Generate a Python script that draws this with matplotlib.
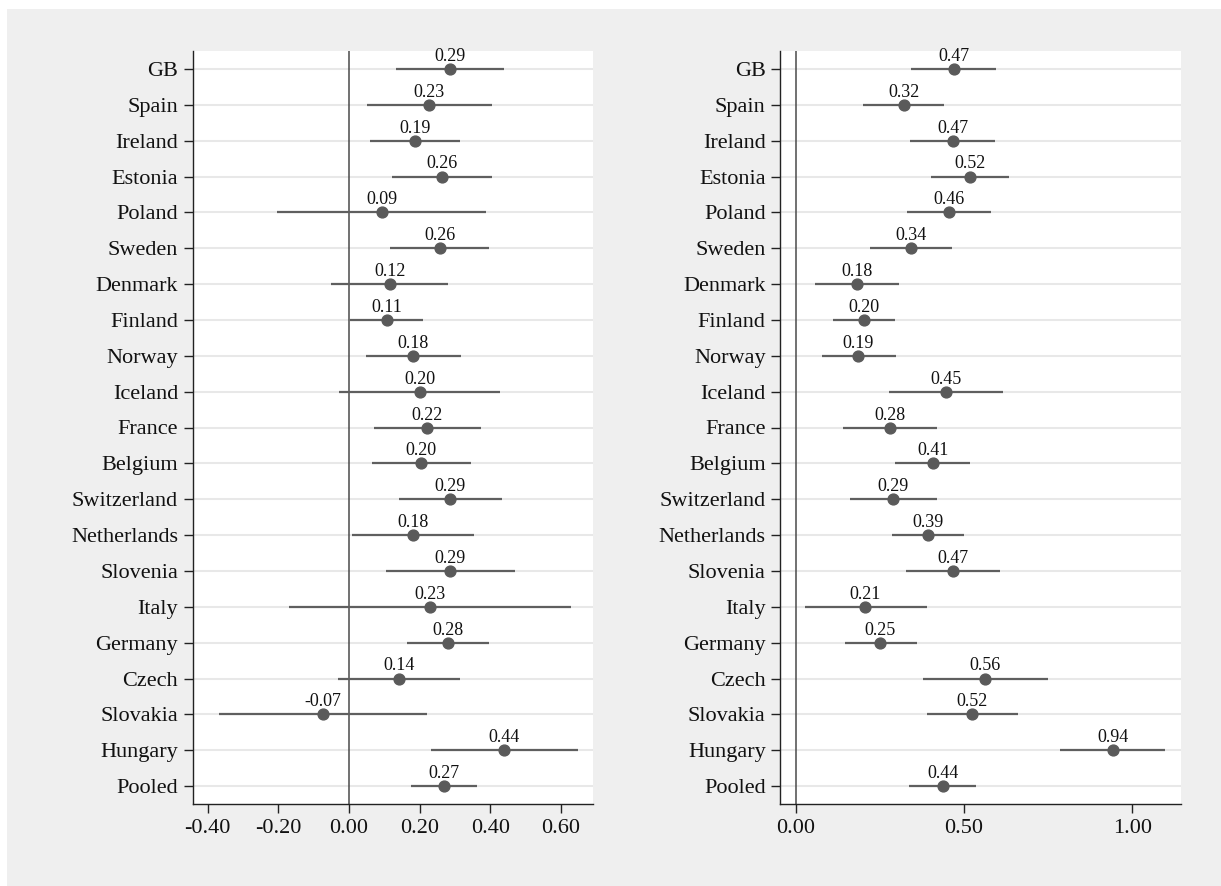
import matplotlib
matplotlib.use("Agg")
import matplotlib.pyplot as plt
from matplotlib.patches import Rectangle

countries = ["GB", "Spain", "Ireland", "Estonia", "Poland", "Sweden", "Denmark",
             "Finland", "Norway", "Iceland", "France", "Belgium", "Switzerland",
             "Netherlands", "Slovenia", "Italy", "Germany", "Czech", "Slovakia",
             "Hungary", "Pooled"]

left_est = [0.287, 0.227, 0.187, 0.263, 0.094, 0.257, 0.117, 0.107, 0.181, 0.200,
            0.222, 0.203, 0.287, 0.181, 0.287, 0.229, 0.280, 0.143, -0.073, 0.440, 0.269]
left_lo = [0.134, 0.050, 0.059, 0.123, -0.203, 0.116, -0.051, 0.002, 0.048, -0.027,
           0.070, 0.064, 0.143, 0.010, 0.105, -0.170, 0.164, -0.030, -0.368, 0.232, 0.175]
left_hi = [0.439, 0.404, 0.314, 0.406, 0.389, 0.396, 0.282, 0.211, 0.317, 0.428,
           0.373, 0.346, 0.433, 0.355, 0.470, 0.630, 0.398, 0.316, 0.221, 0.650, 0.364]

right_est = [0.469, 0.321, 0.467, 0.517, 0.456, 0.341, 0.181, 0.203, 0.186, 0.446,
             0.279, 0.407, 0.289, 0.392, 0.467, 0.207, 0.251, 0.563, 0.523, 0.942, 0.437]
right_lo = [0.343, 0.200, 0.340, 0.403, 0.330, 0.220, 0.058, 0.111, 0.078, 0.278,
            0.140, 0.295, 0.162, 0.287, 0.326, 0.028, 0.147, 0.377, 0.389, 0.786, 0.336]
right_hi = [0.596, 0.441, 0.591, 0.632, 0.581, 0.464, 0.306, 0.296, 0.299, 0.617,
            0.419, 0.517, 0.418, 0.501, 0.606, 0.391, 0.359, 0.750, 0.659, 1.098, 0.534]

left_ticks = [-0.4, -0.2, 0.0, 0.2, 0.4, 0.6]
right_ticks = [0.0, 0.5, 1.0]

plt.rcParams['font.family'] = ['Liberation Serif', 'DejaVu Serif']

W, H = 1221, 886
fig = plt.figure(figsize=(W / 100, H / 100), dpi=100)
fig.patch.set_facecolor('white')
fig.patches.append(Rectangle((7 / W, 0), 1 - 7 / W, 1 - 9 / H, transform=fig.transFigure,
                             facecolor='#efefef', edgecolor='none', zorder=-10))

def panel(rect, est, lo, hi, ticks, xlim):
    ax = fig.add_axes(rect)
    ax.set_facecolor('white')
    n = len(countries)
    ys = list(range(n))
    for y in ys:
        ax.axhline(y, color='#e8e8e8', lw=1.5, zorder=1)
    ax.axvline(0, color='#4a4a4a', lw=1.1, zorder=2)
    ax.hlines(ys, lo, hi, color='#5f5f5f', lw=1.6, zorder=3)
    ax.plot(est, ys, 'o', color='#5a5a5a', ms=7.8, mec='#5a5a5a', zorder=4)
    for e, y in zip(est, ys):
        ax.annotate(f"{e:.2f}", (e, y), xytext=(0, 8), textcoords='offset pixels',
                    ha='center', va='baseline', fontsize=13, color='#111111', zorder=5)
    ax.set_ylim(n - 0.5, -0.5)
    ax.set_xlim(*xlim)
    ax.set_yticks(ys)
    ax.set_yticklabels(countries, fontsize=16, color='#111111')
    ax.set_xticks(ticks)
    ax.set_xticklabels([f"{t:.2f}" for t in ticks], fontsize=16, color='#111111')
    for s in ['top', 'right']:
        ax.spines[s].set_visible(False)
    for s in ['left', 'bottom']:
        ax.spines[s].set_color('#222222')
        ax.spines[s].set_linewidth(1.0)
    ax.tick_params(axis='both', direction='out', length=6.5, width=1.0, color='#222222', pad=4)
    return ax

panel([192.6 / W, 1 - 804 / H, 399.9 / W, 753 / H], left_est, left_lo, left_hi,
      left_ticks, (-0.443, 0.690))
panel([780.3 / W, 1 - 804 / H, 400.6 / W, 753 / H], right_est, right_lo, right_hi,
      right_ticks, (-0.046, 1.144))

fig.savefig("out.png", dpi=100)
